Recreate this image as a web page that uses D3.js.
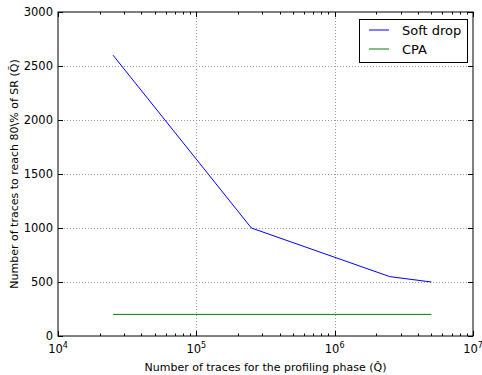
<!DOCTYPE html>
<html>
<head>
<meta charset="utf-8">
<script src="https://cdn.jsdelivr.net/npm/d3@7"></script>
<style>
  body { margin: 0; background: #fff; }
  text { font-family: "DejaVu Sans", sans-serif; fill: #000; }
</style>
</head>
<body>
<div id="chart"></div>
<script>
// data
const softX = [25000, 250000, 2500000, 5000000];
const softY = [2600, 1000, 550, 500];
const cpaX = [25000, 5000000];
const cpaY = [200, 200];
const xDecades = [4, 5, 6, 7];
const yTicks = [0, 500, 1000, 1500, 2000, 2500, 3000];
const seriesNames = ["Soft drop", "CPA"];
const seriesColors = ["#0000ff", "#008000"];

const W = 482, H = 375;
const margin = {top: 12, right: 9, bottom: 39, left: 58},
  width = W - margin.left - margin.right,
  height = H - margin.top - margin.bottom;

const svg = d3.select("#chart")
.append("svg")
  .attr("width", W)
  .attr("height", H)
.append("g")
  .attr("transform", `translate(${margin.left},${margin.top})`);

const x = d3.scaleLog().domain([1e4, 1e7]).range([0, width]);
const y = d3.scaleLinear().domain([0, 3000]).range([height, 0]);

// grid
const majorX = xDecades.map(e => Math.pow(10, e));
svg.selectAll(".gx").data(majorX.slice(1, -1)).join("line")
  .attr("x1", d => Math.round(x(d)) + 0.5).attr("x2", d => Math.round(x(d)) + 0.5)
  .attr("y1", 0).attr("y2", height)
  .attr("stroke", "#999").attr("stroke-dasharray", "1,2").attr("stroke-width", 1);
svg.selectAll(".gy").data(yTicks.slice(1, -1)).join("line")
  .attr("y1", d => Math.round(y(d)) + 0.5).attr("y2", d => Math.round(y(d)) + 0.5)
  .attr("x1", 0).attr("x2", width)
  .attr("stroke", "#999").attr("stroke-dasharray", "1,2").attr("stroke-width", 1);

// minor ticks
const minorX = [];
for (let e = 4; e < 7; e++) for (let m = 2; m < 10; m++) minorX.push(m * Math.pow(10, e));

function xTick(vals, len) {
  [0, height].forEach(y0 => {
    const dir = y0 === 0 ? 1 : -1;
    svg.selectAll(null).data(vals).join("line")
      .attr("x1", d => Math.round(x(d)) + 0.5).attr("x2", d => Math.round(x(d)) + 0.5)
      .attr("y1", y0).attr("y2", y0 + dir * len)
      .attr("stroke", "#000").attr("stroke-width", 1);
  });
}
xTick(majorX, 5);
xTick(minorX, 2.5);
[0, width].forEach(x0 => {
  const dir = x0 === 0 ? 1 : -1;
  svg.selectAll(null).data(yTicks).join("line")
    .attr("y1", d => Math.round(y(d)) + 0.5).attr("y2", d => Math.round(y(d)) + 0.5)
    .attr("x1", x0).attr("x2", x0 + dir * 5)
    .attr("stroke", "#000").attr("stroke-width", 1);
});

// lines
const line = d3.line().x(d => x(d[0])).y(d => y(d[1]));
const series = [d3.zip(softX, softY), d3.zip(cpaX, cpaY)];
svg.selectAll(".series").data(series).join("path")
  .attr("d", line)
  .attr("fill", "none")
  .attr("stroke", (d, i) => seriesColors[i])
  .attr("stroke-width", 1);

// frame
svg.append("rect")
  .attr("x", 0).attr("y", 0).attr("width", width).attr("height", height)
  .attr("fill", "none").attr("stroke", "#000").attr("stroke-width", 1);

// y tick labels
svg.selectAll(".yl").data(yTicks).join("text")
  .attr("x", -5).attr("y", d => y(d) + 4)
  .attr("text-anchor", "end")
  .style("font-size", "11.5px")
  .text(d => d);

// x tick labels 10^n
const xl = svg.selectAll(".xl").data(xDecades).join("text")
  .attr("x", d => x(Math.pow(10, d)))
  .attr("y", height + 17)
  .attr("text-anchor", "middle")
  .style("font-size", "11.5px");
xl.append("tspan").text("10");
xl.append("tspan").attr("dy", -5).style("font-size", "8px").text(d => d);

// axis labels
svg.append("text")
  .attr("x", width / 2).attr("y", height + 35)
  .attr("text-anchor", "middle")
  .style("font-size", "11px")
  .text("Number of traces for the profiling phase (Q\u0302)");

svg.append("text")
  .attr("transform", `translate(${-40},${height / 2}) rotate(-90)`)
  .attr("text-anchor", "middle")
  .style("font-size", "11px")
  .text("Number of traces to reach 80\\% of SR (Q\u0303)");

// legend
const lg = svg.append("g").attr("transform", `translate(${width - 114},${7})`);
lg.append("rect")
  .attr("x", 0.5).attr("y", 0.5).attr("width", 108).attr("height", 43)
  .attr("fill", "#fff").attr("stroke", "#000").attr("stroke-width", 1);
seriesNames.forEach((name, i) => {
  lg.append("line")
    .attr("x1", 10).attr("x2", 30)
    .attr("y1", 11 + i * 19).attr("y2", 11 + i * 19)
    .attr("stroke", seriesColors[i]).attr("stroke-width", 1);
  lg.append("text")
    .attr("x", 43).attr("y", 16 + i * 18.5)
    .style("font-size", "13px")
    .text(name);
});
</script>
</body>
</html>
